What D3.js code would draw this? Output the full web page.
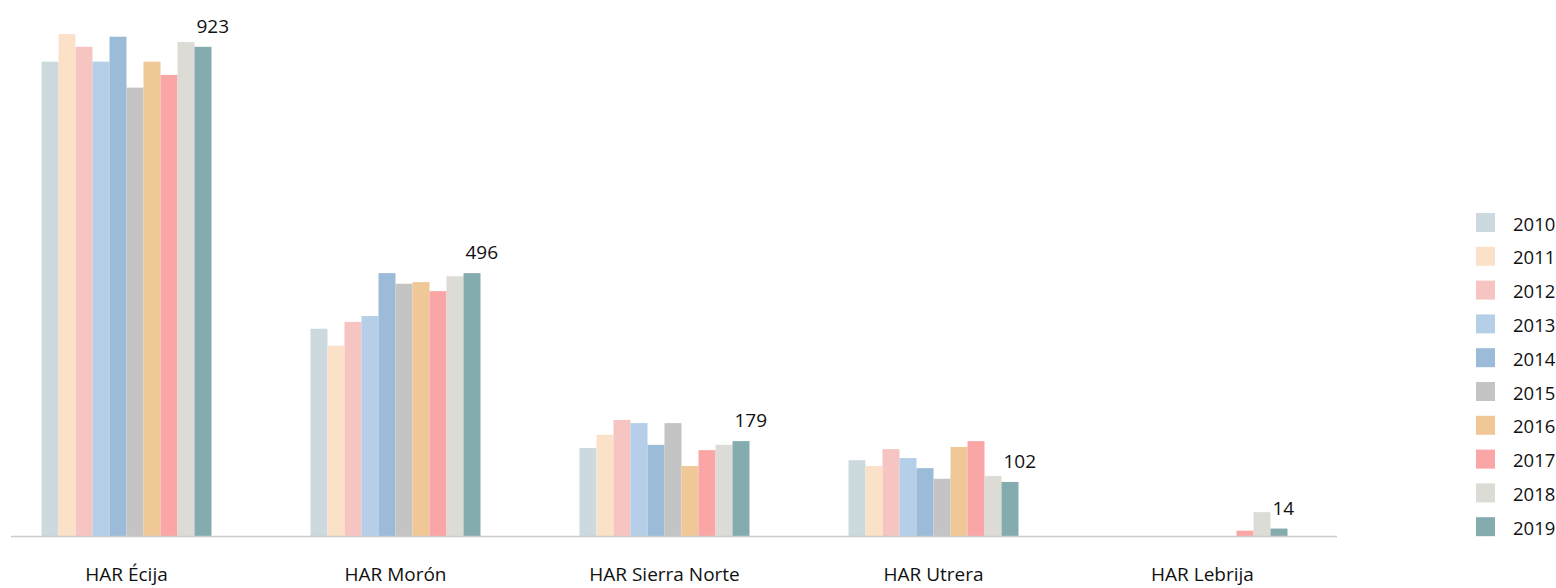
<!DOCTYPE html>
<html>
<head>
<meta charset="utf-8">
<script src="https://cdn.jsdelivr.net/npm/d3@7"></script>
<style>
  html, body { margin: 0; padding: 0; background: #fff; }
  svg { display: block; font-family: "Open Sans", "Noto Sans", sans-serif; }
</style>
</head>
<body>
<svg id="chart" width="1556" height="588"></svg>
<script>
// Hospitales de Alta Resolución, valores anuales 2010–2019
const categories = ["HAR Écija", "HAR Morón", "HAR Sierra Norte", "HAR Utrera", "HAR Lebrija"];
const years = ["2010", "2011", "2012", "2013", "2014", "2015", "2016", "2017", "2018", "2019"];
const colors = ["#ccd9de", "#fce1c9", "#f7c5c1", "#b5cfe8", "#9bbbd8",
                "#c4c4c4", "#f0c796", "#fba6a6", "#dcdbd6", "#84abae"];

// one array per hospital, ordered by year
const valuesEcija       = [895, 947, 923, 895, 942, 846, 895, 870, 932, 923];
const valuesMoron       = [391, 359, 404, 415, 496, 476, 479, 462, 490, 496];
const valuesSierraNorte = [166, 191, 219, 213, 172, 213, 132, 162, 172, 179];
const valuesUtrera      = [143, 132, 164, 147, 128, 108, 168, 179, 113, 102];
const valuesLebrija     = [0, 0, 0, 0, 0, 0, 0, 10, 45, 14];
const seriesValues = [valuesEcija, valuesMoron, valuesSierraNorte, valuesUtrera, valuesLebrija];

const svg = d3.select("#chart");

const x0 = d3.scaleBand()
  .domain(categories)
  .range([-8, 1337])
  .paddingInner(0.368)
  .paddingOuter(0.184);

const x1 = d3.scaleBand()
  .domain(years)
  .range([0, x0.bandwidth()]);

const y = d3.scaleLinear()
  .domain([0, 1000])
  .range([536, 6]);

const color = d3.scaleOrdinal().domain(years).range(colors);

// bars
const groups = svg.append("g")
  .selectAll("g")
  .data(categories)
  .join("g")
  .attr("transform", d => `translate(${x0(d)},0)`);

groups.selectAll("rect")
  .data((d, i) => years.map((yr, j) => ({ year: yr, value: seriesValues[i][j] })))
  .join("rect")
  .attr("x", d => x1(d.year))
  .attr("width", x1.bandwidth())
  .attr("y", d => y(d.value))
  .attr("height", d => y(0) - y(d.value))
  .attr("fill", d => color(d.year));

// value label for the latest year
groups.append("text")
  .attr("x", x1(years[years.length - 1]) + 2)
  .attr("y", (d, i) => y(seriesValues[i][years.length - 1]) - 14)
  .attr("font-size", 19)
  .attr("fill", "#111")
  .text((d, i) => seriesValues[i][years.length - 1]);

// baseline
svg.append("line")
  .attr("x1", 11).attr("x2", 1337)
  .attr("y1", y(0) + 0.5).attr("y2", y(0) + 0.5)
  .attr("stroke", "#cccccc")
  .attr("stroke-width", 1.5);

// category axis
const xAxis = svg.append("g")
  .attr("transform", `translate(0,${y(0)})`)
  .call(d3.axisBottom(x0).tickSize(0).tickPadding(32));
xAxis.select(".domain").remove();
xAxis.selectAll("text")
  .attr("font-size", 19)
  .attr("font-family", "\"Open Sans\", \"Noto Sans\", sans-serif")
  .attr("fill", "#111");

// legend
const legend = svg.append("g")
  .selectAll("g")
  .data(years)
  .join("g")
  .attr("transform", (d, i) => `translate(1476,${213 + i * 33.8})`);

legend.append("rect")
  .attr("width", 19)
  .attr("height", 19)
  .attr("fill", d => color(d));

legend.append("text")
  .attr("x", 37)
  .attr("y", 11)
  .attr("dy", "0.36em")
  .attr("font-size", 18.5)
  .attr("fill", "#111")
  .text(d => d);
</script>
</body>
</html>
